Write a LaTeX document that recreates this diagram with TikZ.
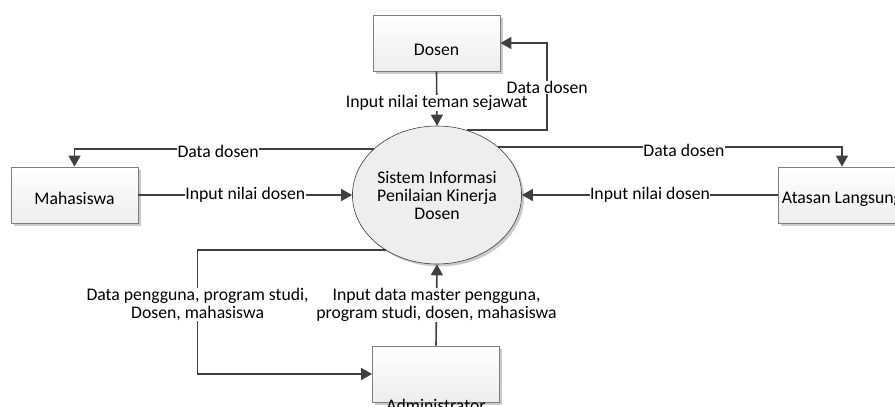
\documentclass[tikz,border=0pt]{standalone}
\usepackage{fontspec}
\setmainfont{Carlito}
\usetikzlibrary{arrows.meta,shapes.geometric,shadows}

\definecolor{linegray}{HTML}{404040}
\definecolor{boxgray}{HTML}{7F7F7F}
\newcommand{\dfdfont}{\fontsize{17.7}{18}\selectfont}

\begin{document}
\begin{tikzpicture}[x=1pt,y=-1pt,
    entity/.style={draw=boxgray,line width=0.8pt,top color=white,bottom color=gray!14,
      minimum width=127pt,minimum height=56pt,inner sep=0pt,font=\dfdfont,
      drop shadow={shadow xshift=2.5pt,shadow yshift=-2.5pt,fill=gray!70,opacity=0.6}},
    process/.style={ellipse,draw=linegray,line width=0.6pt,fill=gray!13,
      minimum width=160pt,minimum height=138pt,inner sep=0pt,align=center,font=\dfdfont,
      drop shadow={shadow xshift=2.5pt,shadow yshift=-2.5pt,fill=gray!70,opacity=0.6}},
    flow/.style={linegray,line width=1.6pt,-{Triangle[length=11pt,width=12pt]}},
    lbl/.style={fill=white,text=black,inner sep=0.5pt,font=\dfdfont}]
    \useasboundingbox (0,0) rectangle (895,407);
    \clip (0,0) rectangle (895,407);

    % Process
    \node[process] (sis) at (437,195) {Sistem Informasi\\Penilaian Kinerja\\Dosen};

    % External entities
    \node[entity,text height=26pt] (dosen) at (436.5,43) {Dosen};
    \node[entity,text height=19pt] (mhs) at (74.5,195) {Mahasiswa};
    \node[entity,text height=20pt] (ata) at (842,195) {Atasan Langsung};
    \node[entity,label={[anchor=north,inner sep=0pt,yshift=3pt,font=\dfdfont]south:Administrator}] (adm) at (436,374) {};

    % Dosen flows
    \draw[flow] (dosen.south) -- node[lbl,pos=0.58]{Input nilai teman sejawat} (sis.north);
    \draw[flow] (sis.65) -- ++(80,0) |- node[lbl,pos=0.25,yshift=-1pt]{Data dosen} (dosen.east);

    % Mahasiswa flows
    \draw[flow] (sis.144.5) -| node[lbl,pos=0.26,yshift=-2pt]{Data dosen} (mhs.north);
    \draw[flow] (mhs.east) -- node[lbl]{Input nilai dosen} (sis.west);

    % Atasan flows
    \draw[flow] (sis.38.7) -| node[lbl,pos=0.27,yshift=-3pt]{Data dosen} (ata.north);
    \draw[flow] (ata.west) -- node[lbl]{Input nilai dosen} (sis.east);

    % Administrator flows
    \draw[flow] (sis.227.3) -- ++(-188,0) |- node[lbl,pos=0.22,align=center]
      {Data pengguna, program studi,\\Dosen, mahasiswa} (adm.west);
    \draw[flow] (adm.north) -- node[lbl,align=center]
      {Input data master pengguna,\\program studi, dosen, mahasiswa} (sis.south);
\end{tikzpicture}
\end{document}
